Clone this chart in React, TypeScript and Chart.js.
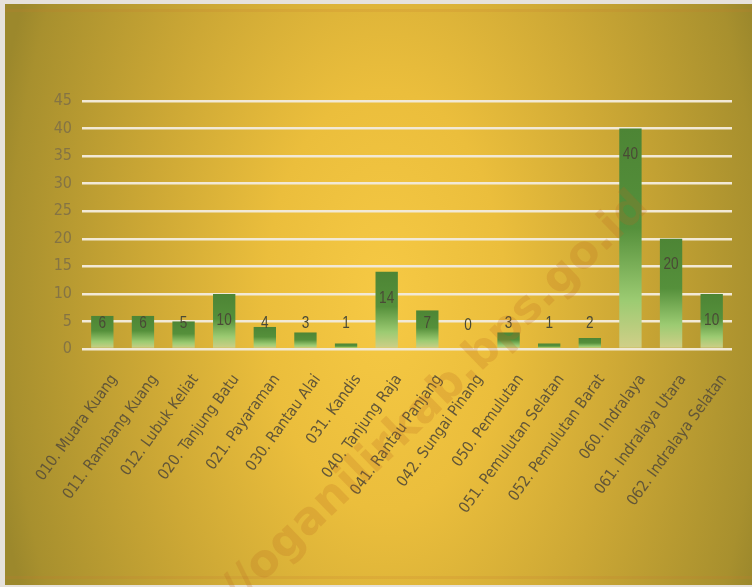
import React, { useEffect, useRef } from "react";
import { Chart, registerables } from "chart.js";
Chart.register(...registerables);

const categories = [
  "010. Muara Kuang",
  "011. Rambang Kuang",
  "012. Lubuk Keliat",
  "020. Tanjung Batu",
  "021. Payaraman",
  "030. Rantau Alai",
  "031. Kandis",
  "040. Tanjung Raja",
  "041. Rantau Panjang",
  "042. Sungai Pinang",
  "050. Pemulutan",
  "051. Pemulutan Selatan",
  "052. Pemulutan Barat",
  "060. Indralaya",
  "061. Indralaya Utara",
  "062. Indralaya Selatan",
];
const values = [6, 6, 5, 10, 4, 3, 1, 14, 7, 0, 3, 1, 2, 40, 20, 10];
const yMin = 0;
const yMax = 45;
const yStep = 5;
const watermark = "https://oganilirkab.bps.go.id";

const W = 752;
const H = 587;
const NUM_FONT = '"DejaVu Sans Condensed", "Liberation Sans", sans-serif';
const TXT_FONT = '"Liberation Sans", sans-serif';

const bgPlugin = {
  id: "bg",
  beforeDraw(chart: any) {
    const ctx = chart.ctx;
    ctx.save();
    ctx.fillStyle = "#e6e2dc";
    ctx.fillRect(0, 0, W, H);
    ctx.beginPath();
    ctx.rect(5, 4, W - 5, H - 6);
    ctx.clip();
    const cx = 385, cy = 300, rx = 400, ry = 700;
    ctx.save();
    ctx.translate(cx, cy);
    ctx.scale(1, ry / rx);
    const g = ctx.createRadialGradient(0, 0, 0, 0, 0, rx);
    g.addColorStop(0, "#f6c944");
    g.addColorStop(0.3, "#ebbe3c");
    g.addColorStop(0.6, "#cda835");
    g.addColorStop(0.94, "#a8902e");
    g.addColorStop(1, "#9c882c");
    ctx.fillStyle = g;
    ctx.fillRect(-cx - 10, (-cy - 10) * (rx / ry), W + 20, (H + 20) * (rx / ry));
    ctx.restore();
    ctx.fillStyle = "rgba(200, 120, 50, 0.18)";
    ctx.fillRect(5, 9, W, 3);
    ctx.fillRect(5, 576, W, 3);
    ctx.restore();
  },
};

const labelPlugin = {
  id: "vlabels",
  afterDatasetsDraw(chart: any) {
    const ctx = chart.ctx;
    const meta = chart.getDatasetMeta(0);
    ctx.save();
    ctx.font = `17px ${TXT_FONT}`;
    ctx.fillStyle = "#4a4a36";
    ctx.textAlign = "center";
    ctx.textBaseline = "middle";
    meta.data.forEach((el: any, i: number) => {
      const y = Math.min(el.y + 26, el.base - 24);
      ctx.save();
      ctx.translate(el.x, y);
      ctx.scale(0.8, 1);
      ctx.fillText(String(values[i]), 0, 0);
      ctx.restore();
    });
    ctx.restore();
  },
  afterDraw(chart: any) {
    const ctx = chart.ctx;
    ctx.save();
    ctx.translate(642, 200);
    ctx.rotate((-44 * Math.PI) / 180);
    ctx.font = 'bold 45px "DejaVu Sans", sans-serif';
    ctx.fillStyle = "rgba(185, 105, 30, 0.22)";
    ctx.textAlign = "right";
    ctx.textBaseline = "middle";
    ctx.fillText(watermark, 0, 0);
    ctx.restore();
  },
};

function barGradient(c: any) {
  const chart = c.chart;
  const ys = chart.scales && chart.scales.y;
  if (!chart.chartArea || !ys || c.raw === undefined) return "#4e8636";
  const top = ys.getPixelForValue(c.raw);
  const base = ys.getPixelForValue(0);
  if (base - top < 1) return "#4e8636";
  const g = chart.ctx.createLinearGradient(0, top, 0, base);
  g.addColorStop(0, "#4d8535");
  g.addColorStop(0.45, "#55903b");
  g.addColorStop(0.78, "#9ccb72");
  g.addColorStop(1, "#d2cf88");
  return g;
}

export default function App() {
  const ref = useRef<HTMLCanvasElement>(null);
  useEffect(() => {
    const chart = new Chart(ref.current as HTMLCanvasElement, {
      type: "bar",
      data: {
        labels: categories,
        datasets: [
          {
            data: values,
            backgroundColor: barGradient as any,
            borderWidth: 0,
            categoryPercentage: 1,
            barPercentage: 0.55,
          },
        ],
      },
      options: {
        animation: false,
        responsive: true,
        maintainAspectRatio: false,
        layout: { padding: { left: 0, right: 20, top: 101, bottom: 0 } },
        plugins: { legend: { display: false }, tooltip: { enabled: false } },
        scales: {
          x: {
            grid: { display: false, drawTicks: false },
            border: { display: false },
            ticks: {
              autoSkip: false,
              minRotation: 54,
              maxRotation: 54,
              padding: 22,
              labelOffset: 12,
              color: "#625638",
              font: { family: NUM_FONT, size: 15.5 },
            },
            afterFit(scale: any) {
              scale.height = H - 349;
            },
          },
          y: {
            min: yMin,
            max: yMax,
            grid: { color: "#f2e9d6", lineWidth: 2.5, drawTicks: false },
            border: { display: false },
            ticks: {
              stepSize: yStep,
              padding: 10,
              color: "#857444",
              font: { family: NUM_FONT, size: 16 },
            },
            afterFit(scale: any) {
              scale.width = 82;
            },
          },
        },
      },
      plugins: [bgPlugin, labelPlugin],
    });
    return () => chart.destroy();
  }, []);
  return (
    <div style={{ position: "fixed", left: 0, top: 0, width: W, height: H }}>
      <canvas ref={ref} />
    </div>
  );
}
